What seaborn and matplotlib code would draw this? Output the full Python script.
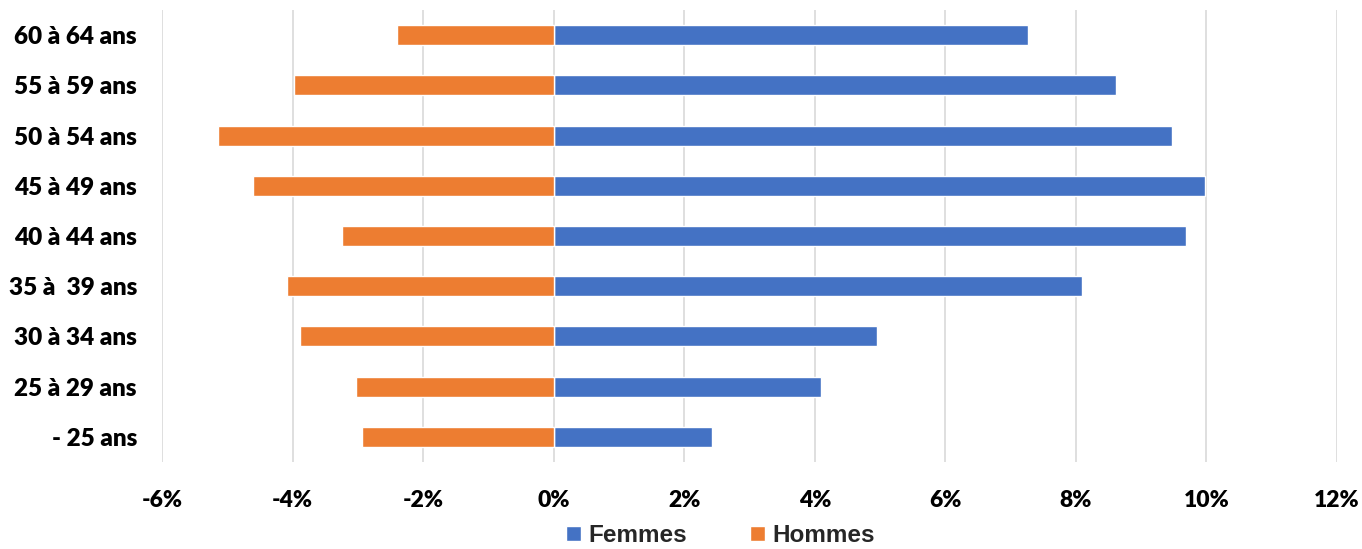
import matplotlib
matplotlib.use("Agg")
import matplotlib.pyplot as plt
import seaborn as sns
import pandas as pd
from matplotlib.ticker import FuncFormatter
from matplotlib.patches import Patch

categories = ["60 à 64 ans", "55 à 59 ans", "50 à 54 ans", "45 à 49 ans", "40 à 44 ans",
              "35 à  39 ans", "30 à 34 ans", "25 à 29 ans", "- 25 ans"]
femmes = [7.26, 8.62, 9.47, 9.98, 9.68, 8.10, 4.95, 4.10, 2.42]
hommes = [-2.40, -3.98, -5.14, -4.61, -3.25, -4.09, -3.89, -3.03, -2.94]
series = ["Femmes", "Hommes"]
colors = ["#4472C4", "#ED7D31"]
xticks = [-6, -4, -2, 0, 2, 4, 6, 8, 10, 12]

df = pd.DataFrame({
    "age": categories * 2,
    "value": femmes + hommes,
    "sexe": [series[0]] * len(categories) + [series[1]] * len(categories),
})

sns.set_theme(style="white")
plt.rcParams['font.family'] = ['Lato', 'DejaVu Sans']

fig = plt.figure(figsize=(13.62, 5.49), dpi=100)
ax = fig.add_axes([162/1362, 1 - 462/549, (1337-162)/1362, (462-10)/549])

sns.barplot(data=df, x="value", y="age", hue="sexe", order=categories,
            hue_order=series, palette=colors, dodge=False, width=0.4,
            orient="h", ax=ax, legend=False, saturation=1)

ax.set_xlim(-6, 12)
ax.set_ylim(len(categories) - 0.5, -0.5)
ax.set_xticks(xticks)
ax.xaxis.set_major_formatter(FuncFormatter(lambda v, p: f"{v:.0f}%"))
ax.grid(axis="x", color="#D9D9D9", linewidth=1.2)
ax.set_axisbelow(True)
for s in ax.spines.values():
    s.set_visible(False)
ax.set_xlabel("")
ax.set_ylabel("")
ax.tick_params(axis="both", length=0)
ax.tick_params(axis="x", pad=20)
ax.tick_params(axis="y", pad=18)
for lab in ax.get_xticklabels():
    lab.set_fontweight("heavy")
    lab.set_fontsize(16.5)
    lab.set_color("#000000")
for lab in ax.get_yticklabels():
    lab.set_fontweight("heavy")
    lab.set_fontsize(17.5)
    lab.set_color("#000000")

handles = [Patch(facecolor=c, label=s) for s, c in zip(series, colors)]
fig.legend(handles=handles, loc="lower center", bbox_to_anchor=(0.529, -0.036), ncol=2,
           frameon=False, prop={"family": "Liberation Sans", "weight": "bold", "size": 17.5},
           handlelength=0.6, handleheight=0.6, columnspacing=2.6, handletextpad=0.3)

fig.savefig("out.png", dpi=100)
